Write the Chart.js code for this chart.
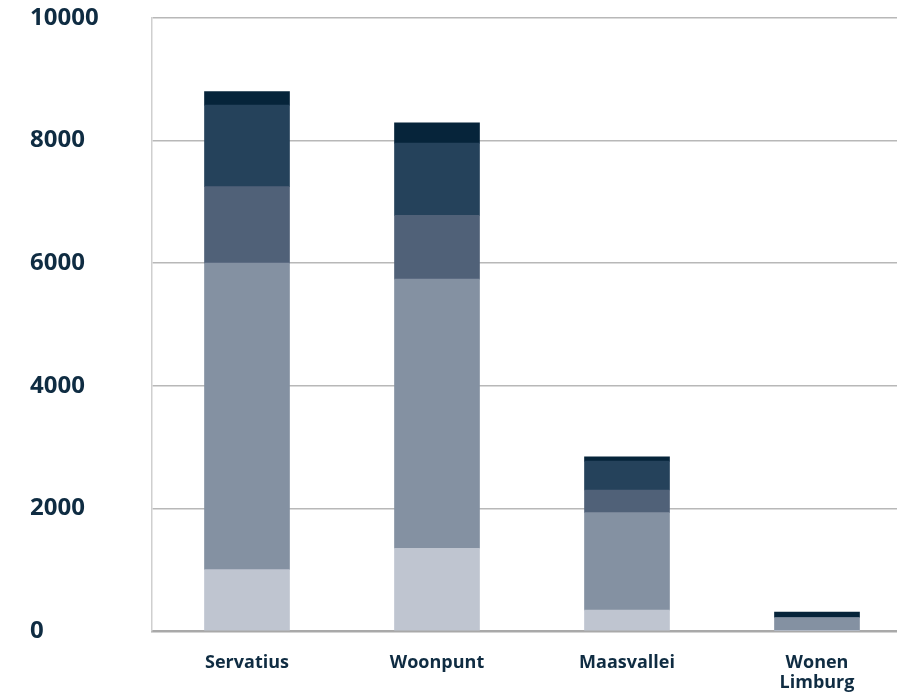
<!DOCTYPE html>
<html>
<head>
<meta charset="utf-8">
<script src="https://cdn.jsdelivr.net/npm/chart.js@4/dist/chart.umd.min.js"></script>
<style>
  html, body { margin: 0; padding: 0; background: #fff; overflow: hidden; }
  #wrap { width: 912px; height: 693px; }
</style>
</head>
<body>
<div id="wrap"><canvas id="chart_canvas"></canvas></div>
<script>
const categories = ['Servatius', 'Woonpunt', 'Maasvallei', ['Wonen', 'Limburg']];

// stacked from the bottom up
const series1 = [1000, 1350, 340, 10];
const series2 = [5000, 4390, 1590, 210];
const series3 = [1250, 1040, 370, 0];
const series4 = [1330, 1180, 470, 0];
const series5 = [220, 330, 70, 90];

const yTicks = [0, 2000, 4000, 6000, 8000, 10000];

const colors = ['#bfc5d0', '#8491a2', '#506178', '#25425b', '#06243a'];
const textColor = '#0f2c42';

const ctx = document.getElementById('chart_canvas').getContext('2d');

const datasets = [series1, series2, series3, series4, series5].map((d, i) => ({
    label: 'serie ' + (i + 1),
    data: d,
    backgroundColor: colors[i],
    borderWidth: 0,
    barThickness: 85
}));

const chart = new Chart(ctx, {
    type: 'bar',
    data: { labels: categories, datasets: datasets },
    options: {
        responsive: true,
        maintainAspectRatio: false,
        animation: false,
        layout: { padding: { left: 30, top: 18, right: 0, bottom: 0 } },
        plugins: { legend: { display: false }, tooltip: { enabled: false } },
        scales: {
            x: {
                stacked: true,
                grid: { display: false, drawTicks: false },
                border: { display: true, color: '#a9a9a9', width: 2.5 },
                afterFit: (axis) => { axis.height = 62; },
                ticks: {
                    color: textColor,
                    padding: 22,
                    font: { family: 'Open Sans', weight: 'bold', size: 18, lineHeight: 1.12 }
                }
            },
            y: {
                stacked: true,
                min: 0,
                max: 10000,
                afterBuildTicks: (axis) => { axis.ticks = yTicks.map(v => ({ value: v })); },
                afterFit: (axis) => { axis.width = 122; },
                grid: { color: '#b8b8b8', lineWidth: 1.5, drawTicks: false },
                border: { display: true, color: '#cfcfcf', width: 1.5 },
                ticks: {
                    color: textColor,
                    crossAlign: 'far',
                    padding: 0,
                    callback: (v) => String(v),
                    font: { family: 'Open Sans', weight: 'bold', size: 24 }
                }
            }
        }
    }
});
</script>
</body>
</html>
